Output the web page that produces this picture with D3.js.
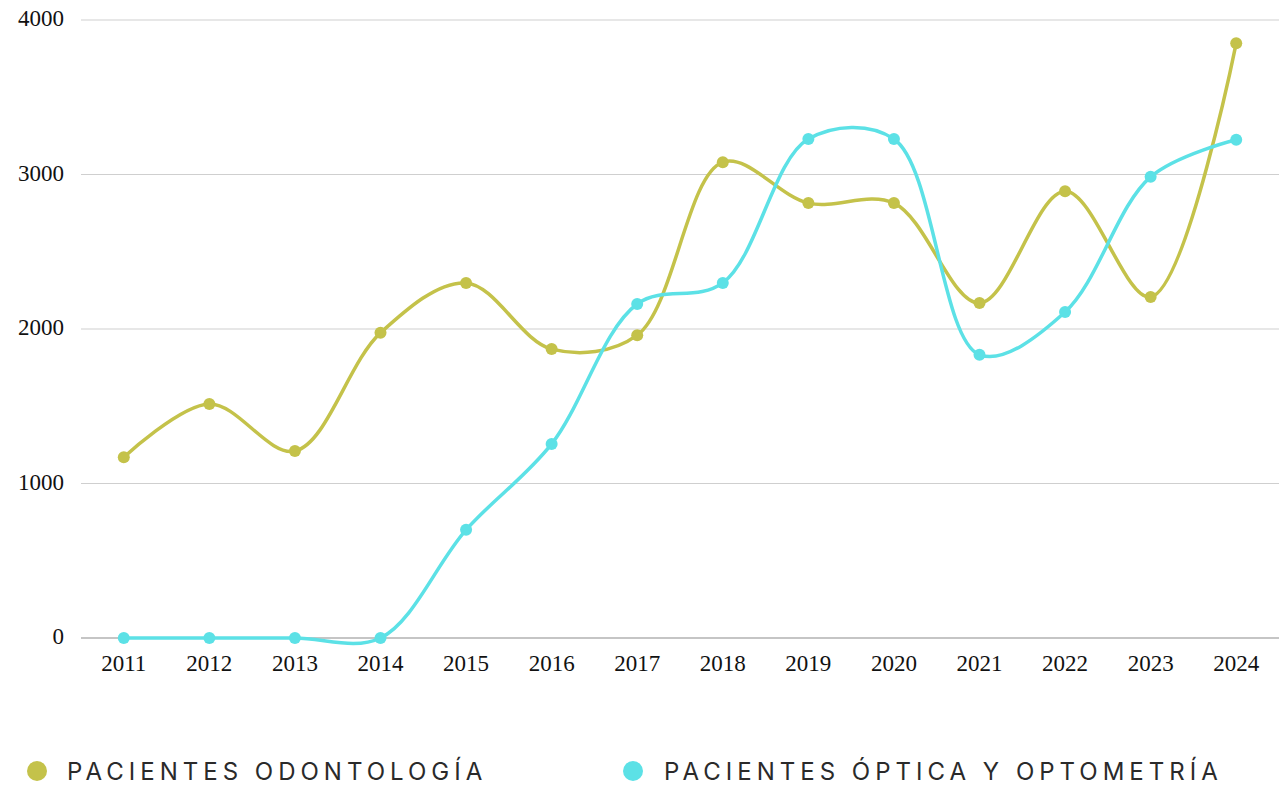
<!DOCTYPE html>
<html><head><meta charset="utf-8">
<script src="https://cdn.jsdelivr.net/npm/d3@7"></script>
<style>body{margin:0;background:#fff}svg{display:block}</style>
</head><body>
<svg id="c" width="1279" height="785"></svg>
<script>
const years = ["2011","2012","2013","2014","2015","2016","2017","2018","2019","2020","2021","2022","2023","2024"];
const odontologia = [1170,1515,1210,1975,2298,1870,1960,3080,2815,2815,2168,2892,2207,3850];
const optica = [0,0,0,0,700,1256,2162,2298,3230,3230,1833,2110,2985,3225];
const yTicks = [0,1000,2000,3000,4000];
const seriesNames = ["PACIENTES ODONTOLOGÍA","PACIENTES ÓPTICA Y OPTOMETRÍA"];
const colors = ["#c4c24a","#5ce1e6"];

const svg = d3.select("#c");
const x = d3.scalePoint().domain(years).range([81,1279]).padding(0.5);
const y = d3.scaleLinear().domain([0,4000]).range([638,20]);

// gridlines
svg.append("g").selectAll("line").data(yTicks).join("line")
  .attr("x1",81).attr("x2",1279)
  .attr("y1",d=>y(d)).attr("y2",d=>y(d))
  .attr("stroke",d=>d===0?"#8c8c8c":"#cfcfcf").attr("stroke-width",1.2);

// y labels
svg.append("g").selectAll("text").data(yTicks).join("text")
  .attr("x",64).attr("y",d=>y(d)+6).attr("text-anchor","end")
  .attr("font-family","Liberation Serif, serif").attr("font-size",23).attr("fill","#111")
  .text(d=>d);

// x labels
svg.append("g").selectAll("text").data(years).join("text")
  .attr("x",d=>x(d)).attr("y",671).attr("text-anchor","middle")
  .attr("font-family","Liberation Serif, serif").attr("font-size",23).attr("fill","#111")
  .text(d=>d);

const line = d3.line().x((d,i)=>x(years[i])).y(d=>y(d)).curve(d3.curveCatmullRom.alpha(0.5));
[odontologia, optica].forEach((s,k)=>{
  const g = svg.append("g");
  g.append("path").attr("d",line(s)).attr("fill","none")
    .attr("stroke",colors[k]).attr("stroke-width",3.5);
  g.selectAll("circle").data(s).join("circle")
    .attr("cx",(d,i)=>x(years[i])).attr("cy",d=>y(d)).attr("r",6).attr("fill",colors[k]);
});

// legend
const lx = [37,633], tx=[67,664];
seriesNames.forEach((n,k)=>{
  svg.append("circle").attr("cx",lx[k]).attr("cy",771).attr("r",10).attr("fill",colors[k]);
  svg.append("text").attr("x",tx[k]).attr("y",780)
    .attr("font-family","Inter, Roboto, sans-serif").attr("font-size",24)
    .attr("letter-spacing","5px").attr("fill","#2a2a2a").text(n);
});
</script>
</body></html>
